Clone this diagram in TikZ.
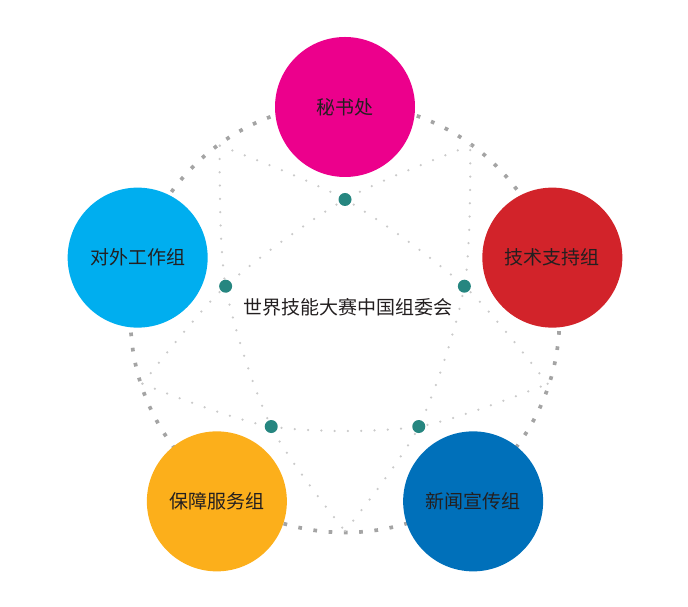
\documentclass[tikz,border=0pt]{standalone}
\usepackage{fontspec}
\setmainfont{Noto Sans CJK SC}
\usetikzlibrary{positioning,calc}
\definecolor{mishu}{HTML}{EC008C}
\definecolor{jishu}{HTML}{D2232A}
\definecolor{waishi}{HTML}{00AEEF}
\definecolor{baozhang}{HTML}{FCAF1B}
\definecolor{xinwen}{HTML}{0070BA}
\definecolor{hubteal}{HTML}{268680}
\definecolor{ringgray}{HTML}{A4A4A4}
\definecolor{faintgray}{HTML}{CACACA}
\definecolor{labeltext}{HTML}{231F20}
\tikzset{
  team/.style={circle, minimum size=140pt, inner sep=0pt, text=labeltext, font=\fontsize{19}{19}\selectfont},
  ring/.style={draw=ringgray, line width=3.7pt, dash pattern=on 3.7pt off 11.6pt},
  faint/.style={draw=faintgray, line width=2.5pt, line cap=round, dash pattern=on 0pt off 13.3pt},
  hub/.style={circle, fill=hubteal, minimum size=13pt, inner sep=0pt}
}
\begin{document}
\begin{tikzpicture}[x=1pt, y=1pt]
\useasboundingbox (0,0) rectangle (688,607);
\coordinate (mid) at (345,282);
\coordinate (ringmid) at (345,289);
% cusps of the star and crossing points
\foreach \i in {0,...,4}{
  \coordinate (k\i) at ($(ringmid)+(54+72*\i:213)$);
  \coordinate (t\i) at ($(mid)+(90+72*\i:125.5)$);
}
\draw[ring] (ringmid) circle[radius=214.5];
\foreach \a/\b/\c/\d in {k0/t0/t1/k2, k1/t1/t2/k3, k2/t2/t3/k4, k3/t3/t4/k0, k4/t4/t0/k1}{
  \draw[faint] plot[smooth] coordinates {(\a) (\b) (\c) (\d)};}
\foreach \i/\col/\name/\txt in {0/mishu/sec/秘书处, 1/waishi/ext/对外工作组, 2/baozhang/sup/保障服务组, 3/xinwen/news/新闻宣传组, 4/jishu/tech/技术支持组}{
  \node[team, fill=\col] (\name) at ($(mid)+(90+72*\i:218)$) {\txt};}
\foreach \i in {0,...,4}{\node[hub] (h\i) at (t\i) {};}
\node[text=labeltext, font=\fontsize{19}{19}\selectfont] (org) at (348,299.5) {世界技能大赛中国组委会};
\end{tikzpicture}
\end{document}
